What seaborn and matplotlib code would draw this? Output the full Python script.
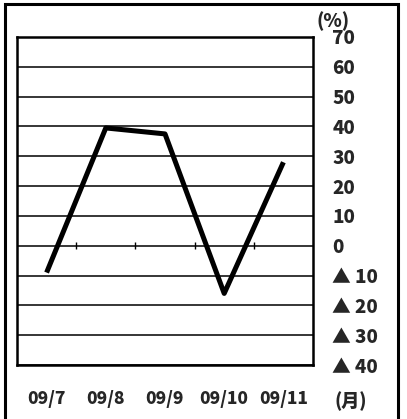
import matplotlib
matplotlib.use('Agg')
import matplotlib.pyplot as plt
from matplotlib.patches import Rectangle
import pandas as pd
import seaborn as sns

sns.set_style('white')
plt.rcParams['font.family'] = ['Noto Sans CJK JP', 'DejaVu Sans']

W, H = 407, 419
DPI = 100

months = ['09/7', '09/8', '09/9', '09/10', '09/11']
change = [-9, 39.5, 37.5, -16, 28]
y_ticks = [70, 60, 50, 40, 30, 20, 10, 0, -10, -20, -30, -40]
y_labels = ['70', '60', '50', '40', '30', '20', '10', '0',
            '▲ 10', '▲ 20', '▲ 30', '▲ 40']

df = pd.DataFrame({'pos': range(len(months)), 'month': months, 'value': change})

fig = plt.figure(figsize=(W / DPI, H / DPI), dpi=DPI)
ax = fig.add_axes([17 / W, (H - 365) / H, 296 / W, 328 / H])

# horizontal grid
for v in y_ticks:
    ax.axhline(v, color='black', linewidth=1.1, zorder=1)

# small marks on the zero line between months
ax.vlines([p + 0.5 for p in df['pos'][:-1]], -1.2, 1.2, color='black', linewidth=1, zorder=1)

sns.lineplot(data=df, x='pos', y='value', color='black', linewidth=3.6,
             solid_capstyle='butt', ax=ax, zorder=3)

ax.set_xlim(-0.5, len(months) - 0.5)
ax.set_ylim(-40, 70)
ax.set_xticks(df['pos'])
ax.set_xticklabels(months, fontsize=12.5, fontweight='heavy')
ax.set_yticks(y_ticks)
ax.set_yticklabels(y_labels, fontsize=13.5, fontweight='heavy')
ax.yaxis.tick_right()
ax.tick_params(axis='y', length=0, pad=14)
ax.tick_params(axis='x', length=0, pad=18)
ax.set_xlabel('')
ax.set_ylabel('')
for s in ax.spines.values():
    s.set_color('black')
    s.set_linewidth(1.8)

fig.text(317 / W, 1 - 21 / H, '(%)', fontsize=13.5, fontweight='heavy', va='center', ha='left')
fig.text(334 / W, 1 - 401 / H, '(月)', fontsize=13, fontweight='heavy', va='center', ha='left')

# outer frame
fig.patches.append(Rectangle((5 / W, -0.05), 393 / W, 1.05 - 4 / H, transform=fig.transFigure,
                             fill=False, edgecolor='black', linewidth=2.2))

fig.savefig('out.png', dpi=DPI)
